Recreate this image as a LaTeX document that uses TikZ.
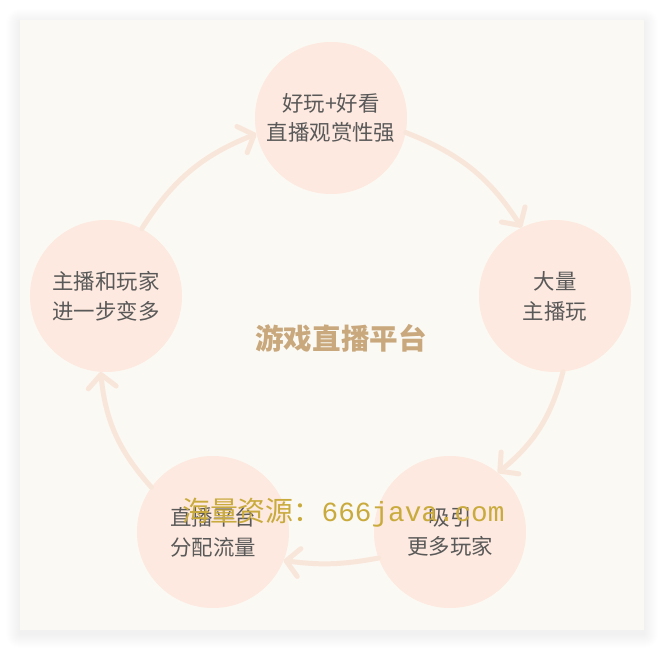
\documentclass[tikz,border=0pt]{standalone}
\usepackage{fontspec}
\setmainfont{Noto Sans CJK SC}
\newfontfamily\markmono{Liberation Mono}
\usetikzlibrary{arrows.meta}
\definecolor{panelbg}{HTML}{FBF9F3}
\definecolor{bubblefill}{HTML}{FDE9DF}
\definecolor{flowline}{HTML}{F9E6DA}
\definecolor{bubbletext}{HTML}{595959}
\definecolor{hubtext}{HTML}{C8A87C}
\definecolor{markgold}{HTML}{C9AA3C}

\begin{document}
\begin{tikzpicture}[x=1bp, y=1bp,
  bubble/.style={circle, fill=bubblefill, minimum size=152bp, inner sep=0pt,
    align=center, text=bubbletext, font=\fontsize{21.5}{30}\selectfont},
  flow/.style={draw=flowline, line width=5bp, line cap=round,
    -{Straight Barb[length=13bp, width=28bp, round]}},
]
  \useasboundingbox[fill=white] (0,0) rectangle (664,650);
  % soft shadow and panel
  \foreach \s in {1,...,14}
    \fill[black, opacity=0.0045, rounded corners=\s bp] (20-\s,16-\s) rectangle (644+\s,627+\s);
  \fill[panelbg] (20,20) rectangle (644,630);

  \node[bubble] (top)   at (331,532) {好玩+好看\\直播观赏性强};
  \node[bubble] (right) at (555,354) {大量\\主播玩};
  \node[bubble] (br)    at (450,118) {吸引\\更多玩家};
  \node[bubble] (bl)    at (213,118) {直播平台\\分配流量};
  \node[bubble] (left)  at (106,354) {主播和玩家\\进一步变多};

  \node[text=hubtext, font=\fontsize{28.7}{30}\selectfont\bfseries] (hub) at (341,312) {游戏直播平台};

  \draw[flow] (left.62)  to[bend left=18] (top.192);
  \draw[flow] (top.-11)  to[bend left=18] (right.116);
  \draw[flow] (right.-84) to[bend left=18] (br.51);
  \draw[flow] (br.200)   to[bend left=9]  (bl.-22);
  \draw[flow] (bl.144)   to[bend left=18] (left.266);

  \node[text=markgold, anchor=base west, inner sep=0pt] (mark) at (182,128)
    {{\fontsize{28}{28}\selectfont 海量资源：}{\markmono\fontsize{27.8}{28}\selectfont 666java.com}};
\end{tikzpicture}
\end{document}
